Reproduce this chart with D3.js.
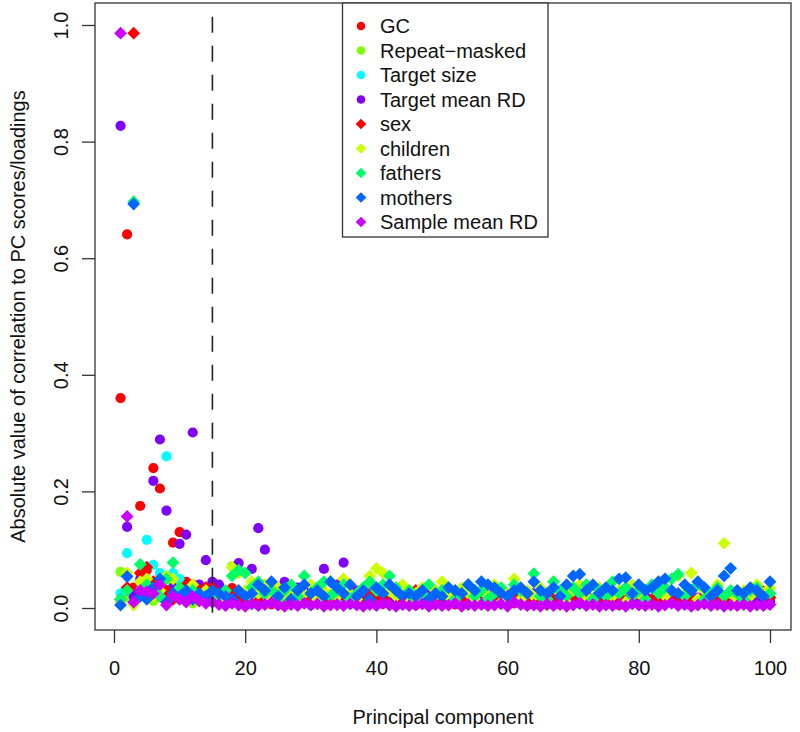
<!DOCTYPE html>
<html><head><meta charset="utf-8">
<script src="https://cdn.jsdelivr.net/npm/d3@7"></script>
<style>body{margin:0;background:#fff}text{font-family:"Liberation Sans",Arial,Helvetica,sans-serif;fill:#111}</style>
</head><body><svg id="c" width="800" height="732"></svg>
<script>
// ---------------- data ----------------
const pcs = d3.range(1, 101);
const xTicks = [0, 20, 40, 60, 80, 100];
const yTicks = [0, 0.2, 0.4, 0.6, 0.8, 1.0];
const cutoffPC = 15;

const gc = [0.360,0.641,0.035,0.175,0.065,0.240,0.205,0.020,0.112,0.130,0.045,0.040,0.030,0.035,0.040,
0.012,0.020,0.034,0.008,0.015,0.025,0.010,0.018,0.006,0.022,
0.014,0.009,0.030,0.012,0.005,0.017,0.024,0.011,0.008,0.019,
0.013,0.006,0.021,0.010,0.016,0.007,0.012,0.026,0.009,0.014,
0.005,0.018,0.011,0.008,0.023,0.013,0.006,0.015,0.010,0.019,
0.007,0.012,0.009,0.016,0.024,0.008,0.011,0.005,0.014,0.020,
0.009,0.013,0.006,0.017,0.010,0.008,0.022,0.012,0.007,0.015,
0.011,0.005,0.018,0.009,0.014,0.006,0.012,0.020,0.008,0.010,
0.016,0.007,0.013,0.009,0.011,0.006,0.015,0.008,0.012,0.010,
0.007,0.014,0.009,0.018,0.011];
const repeatMasked = [0.062,0.018,0.010,0.045,0.030,0.012,0.050,0.025,0.040,0.015,0.020,0.008,0.030,0.018,0.010,
0.015,0.008,0.072,0.022,0.010,0.018,0.030,0.006,0.012,0.025,
0.009,0.020,0.014,0.035,0.007,0.016,0.011,0.024,0.008,0.013,
0.019,0.006,0.028,0.010,0.015,0.009,0.021,0.012,0.007,0.017,
0.011,0.024,0.008,0.014,0.006,0.019,0.010,0.013,0.022,0.009,
0.015,0.007,0.012,0.020,0.009,0.016,0.011,0.006,0.018,0.010,
0.013,0.008,0.021,0.012,0.007,0.015,0.009,0.017,0.011,0.006,
0.014,0.010,0.019,0.008,0.012,0.016,0.007,0.013,0.009,0.020,
0.011,0.006,0.015,0.010,0.018,0.008,0.012,0.014,0.007,0.010,
0.016,0.009,0.012,0.008,0.013];
const targetSize = [0.025,0.094,0.015,0.030,0.117,0.074,0.060,0.260,0.060,0.050,0.030,0.020,0.015,0.025,0.012,
0.010,0.018,0.008,0.022,0.012,0.006,0.015,0.009,0.020,0.011,
0.007,0.014,0.010,0.018,0.005,0.013,0.009,0.016,0.008,0.012,
0.006,0.015,0.010,0.019,0.007,0.011,0.008,0.014,0.005,0.012,
0.009,0.017,0.006,0.013,0.010,0.008,0.015,0.007,0.011,0.009,
0.014,0.006,0.012,0.008,0.016,0.010,0.007,0.013,0.009,0.011,
0.005,0.015,0.008,0.012,0.010,0.006,0.014,0.009,0.011,0.007,
0.013,0.008,0.010,0.016,0.006,0.012,0.009,0.007,0.014,0.010,
0.008,0.011,0.006,0.013,0.009,0.012,0.007,0.010,0.015,0.008,
0.011,0.006,0.009,0.012,0.007];
const targetMeanRD = [0.827,0.139,0.020,0.050,0.030,0.218,0.289,0.167,0.035,0.110,0.126,0.301,0.040,0.082,0.045,
0.040,0.030,0.020,0.077,0.025,0.067,0.137,0.100,0.030,0.020,
0.045,0.015,0.035,0.020,0.030,0.025,0.067,0.015,0.040,0.078,
0.020,0.030,0.012,0.025,0.018,0.035,0.010,0.022,0.015,0.028,
0.012,0.020,0.030,0.010,0.018,0.025,0.014,0.022,0.010,0.016,
0.020,0.012,0.028,0.015,0.010,0.022,0.018,0.012,0.025,0.014,
0.018,0.010,0.030,0.015,0.022,0.012,0.020,0.016,0.010,0.024,
0.014,0.018,0.012,0.026,0.010,0.020,0.015,0.012,0.022,0.016,
0.010,0.020,0.014,0.018,0.012,0.024,0.015,0.010,0.020,0.016,
0.012,0.018,0.010,0.015,0.012];
const sex = [0.015,0.035,0.986,0.060,0.070,0.045,0.020,0.030,0.015,0.025,0.040,0.020,0.030,0.035,0.035,
0.020,0.010,0.030,0.015,0.008,0.035,0.012,0.025,0.018,0.006,
0.022,0.010,0.030,0.014,0.008,0.018,0.026,0.012,0.006,0.020,
0.010,0.015,0.008,0.022,0.012,0.018,0.006,0.025,0.010,0.014,
0.030,0.008,0.016,0.012,0.020,0.006,0.014,0.010,0.018,0.008,
0.028,0.012,0.006,0.016,0.010,0.020,0.014,0.008,0.012,0.018,
0.006,0.015,0.010,0.022,0.012,0.008,0.016,0.010,0.026,0.014,
0.008,0.018,0.012,0.030,0.022,0.010,0.014,0.008,0.016,0.012,
0.010,0.020,0.014,0.006,0.018,0.012,0.010,0.016,0.008,0.014,
0.012,0.022,0.030,0.028,0.018];
const children = [0.010,0.060,0.005,0.045,0.050,0.020,0.030,0.055,0.050,0.030,0.025,0.040,0.020,0.030,0.015,
0.015,0.020,0.070,0.060,0.030,0.045,0.025,0.040,0.015,0.035,
0.020,0.030,0.010,0.025,0.040,0.015,0.030,0.045,0.020,0.050,
0.025,0.015,0.035,0.055,0.068,0.060,0.030,0.020,0.040,0.010,
0.025,0.035,0.015,0.030,0.045,0.020,0.010,0.035,0.025,0.015,
0.030,0.020,0.040,0.010,0.025,0.050,0.015,0.030,0.020,0.035,
0.015,0.045,0.025,0.010,0.030,0.040,0.020,0.015,0.035,0.025,
0.020,0.030,0.010,0.040,0.025,0.015,0.035,0.045,0.020,0.030,
0.055,0.025,0.060,0.015,0.030,0.020,0.040,0.111,0.025,0.015,
0.030,0.020,0.040,0.025,0.035];
const fathers = [0.015,0.030,0.697,0.075,0.040,0.030,0.020,0.050,0.078,0.035,0.025,0.030,0.020,0.015,0.025,
0.020,0.030,0.055,0.065,0.060,0.035,0.045,0.025,0.030,0.015,
0.030,0.040,0.020,0.055,0.025,0.035,0.045,0.020,0.030,0.040,
0.015,0.025,0.035,0.045,0.030,0.040,0.055,0.035,0.020,0.030,
0.015,0.025,0.040,0.020,0.030,0.035,0.015,0.025,0.040,0.020,
0.030,0.015,0.025,0.035,0.020,0.040,0.030,0.025,0.059,0.020,
0.015,0.045,0.030,0.020,0.035,0.025,0.040,0.015,0.030,0.020,
0.045,0.025,0.035,0.020,0.030,0.015,0.040,0.025,0.035,0.050,
0.058,0.020,0.030,0.040,0.015,0.025,0.035,0.020,0.030,0.025,
0.015,0.030,0.035,0.020,0.025];
const mothers = [0.005,0.054,0.693,0.020,0.015,0.035,0.050,0.010,0.025,0.020,0.030,0.015,0.025,0.020,0.030,
0.025,0.020,0.015,0.030,0.020,0.025,0.040,0.030,0.045,0.020,
0.035,0.015,0.030,0.040,0.025,0.030,0.020,0.045,0.035,0.025,
0.040,0.020,0.030,0.015,0.035,0.025,0.040,0.030,0.020,0.025,
0.020,0.030,0.015,0.025,0.020,0.035,0.030,0.025,0.040,0.030,
0.045,0.040,0.035,0.025,0.020,0.030,0.035,0.025,0.045,0.030,
0.025,0.035,0.020,0.040,0.055,0.058,0.030,0.040,0.025,0.035,
0.030,0.050,0.052,0.025,0.040,0.030,0.035,0.045,0.050,0.030,
0.025,0.040,0.030,0.045,0.035,0.020,0.030,0.055,0.068,0.030,
0.025,0.035,0.030,0.020,0.045];
const sampleMeanRD = [0.986,0.157,0.010,0.030,0.028,0.025,0.040,0.005,0.020,0.015,0.010,0.020,0.012,0.008,0.010,
0.006,0.004,0.008,0.005,0.003,0.007,0.004,0.006,0.009,0.005,
0.003,0.006,0.004,0.008,0.005,0.007,0.003,0.005,0.006,0.004,
0.007,0.005,0.003,0.006,0.004,0.008,0.005,0.003,0.006,0.004,
0.005,0.007,0.003,0.006,0.004,0.005,0.008,0.003,0.006,0.004,
0.006,0.004,0.005,0.007,0.003,0.010,0.006,0.004,0.005,0.003,
0.007,0.004,0.006,0.003,0.005,0.008,0.004,0.006,0.003,0.005,
0.004,0.006,0.003,0.007,0.005,0.004,0.006,0.003,0.005,0.008,
0.004,0.006,0.003,0.005,0.007,0.004,0.006,0.003,0.005,0.004,
0.006,0.003,0.005,0.004,0.006];

const seriesNames = ["GC","Repeat\u2212masked","Target size","Target mean RD","sex","children","fathers","mothers","Sample mean RD"];
const seriesValues = [gc, repeatMasked, targetSize, targetMeanRD, sex, children, fathers, mothers, sampleMeanRD];
const seriesColors = ["#FF0000","#80FF00","#00FFFF","#8000FF","#FF0000","#CCFF00","#00FF66","#0066FF","#CC00FF"];
const seriesShapes = ["circle","circle","circle","circle","diamond","diamond","diamond","diamond","diamond"];

// ---------------- layout ----------------
const svg = d3.select("#c");
const box = {left: 95, right: 791, top: 3, bottom: 630};
const x = d3.scaleLinear().domain([0, 100]).range([114, 770]);
const y = d3.scaleLinear().domain([0, 1]).range([608, 25]);

const circlePath = d3.symbol().type(d3.symbolCircle).size(Math.PI * 5.1 * 5.1);
const diamondPath = (s) => `M0,${-s}L${s},0L0,${s}L${-s},0Z`;

function shapePath(shape) { return shape === "circle" ? circlePath() : diamondPath(6.4); }

// points
seriesValues.forEach((vals, si) => {
  svg.append("g").selectAll("path").data(vals).join("path")
    .attr("d", shapePath(seriesShapes[si]))
    .attr("transform", (d, i) => `translate(${x(pcs[i])},${y(d)})`)
    .attr("fill", seriesColors[si]);
});

// dashed cutoff line
svg.append("line")
  .attr("x1", x(cutoffPC)).attr("x2", x(cutoffPC))
  .attr("y1", y(1.014)).attr("y2", y(-0.01))
  .attr("stroke", "#222").attr("stroke-width", 1.6)
  .attr("stroke-dasharray", "16,13");

// box
svg.append("rect")
  .attr("x", box.left).attr("y", box.top)
  .attr("width", box.right - box.left).attr("height", box.bottom - box.top)
  .attr("fill", "none").attr("stroke", "#333").attr("stroke-width", 1.3);

// x axis
const gx = svg.append("g").attr("transform", `translate(0,${box.bottom})`)
  .call(d3.axisBottom(x).tickValues(xTicks).tickSize(13).tickFormat(d3.format("d")));
gx.select(".domain").remove();
gx.selectAll(".tick line").attr("stroke", "#333").attr("stroke-width", 1.3);
gx.selectAll(".tick text").attr("y", 45).attr("dy", 0).attr("font-size", 20).attr("fill", "#111");

// y axis
const gy = svg.append("g").attr("transform", `translate(${box.left},0)`)
  .call(d3.axisLeft(y).tickValues(yTicks).tickSize(13).tickFormat(d3.format(".1f")));
gy.select(".domain").remove();
gy.selectAll(".tick line").attr("stroke", "#333").attr("stroke-width", 1.3);
gy.selectAll(".tick text")
  .attr("x", 0).attr("y", 0).attr("dy", 0)
  .attr("text-anchor", "middle")
  .attr("transform", "translate(-27,0) rotate(-90)")
  .attr("font-size", 20).attr("fill", "#111");

// axis titles
svg.append("text").attr("x", (box.left + box.right) / 2).attr("y", 724)
  .attr("text-anchor", "middle").attr("font-size", 20).text("Principal component");
svg.append("text").attr("transform", `translate(25,${(box.top + box.bottom) / 2}) rotate(-90)`)
  .attr("text-anchor", "middle").attr("font-size", 20)
  .text("Absolute value of correlation to PC scores/loadings");

// legend
const lg = svg.append("g");
lg.append("rect").attr("x", 342.5).attr("y", box.top).attr("width", 205.5).attr("height", 234)
  .attr("fill", "#fff").attr("stroke", "#333").attr("stroke-width", 1.3);
seriesNames.forEach((name, i) => {
  const yy = 26 + i * 24.5;
  lg.append("path").attr("d", seriesShapes[i] === "circle" ? d3.symbol().type(d3.symbolCircle).size(Math.PI * 4.3 * 4.3)() : diamondPath(5.3))
    .attr("transform", `translate(361,${yy})`).attr("fill", seriesColors[i]);
  lg.append("text").attr("x", 380).attr("y", yy + 7).attr("font-size", 20).text(name);
});
</script></body></html>
